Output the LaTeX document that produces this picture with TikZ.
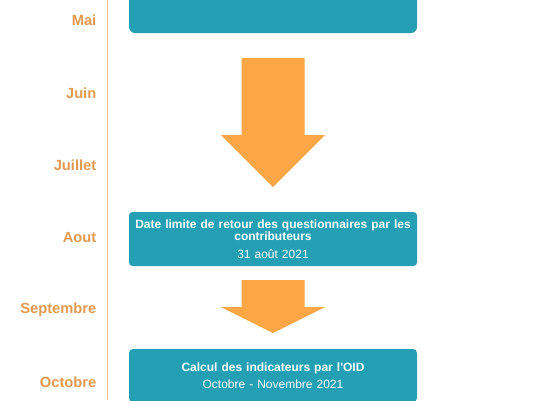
\documentclass[tikz,border=0pt]{standalone}
\usepackage{fontspec}
\setmainfont{Liberation Sans}
\definecolor{teal1}{HTML}{259FB3}
\definecolor{arrowor}{HTML}{FDA645}
\definecolor{monthcol}{HTML}{E39A50}
\definecolor{linecol}{HTML}{F7BF8A}
\tikzset{
  month/.style={anchor=east, text=monthcol, font=\fontsize{14.7}{15}\selectfont\bfseries, inner sep=0pt},
  stagebox/.style={fill=teal1, draw=none, rounded corners=3.5pt, minimum width=288pt, inner sep=0pt, text=white, align=center, text width=284pt, font=\fontsize{12}{12.5}\selectfont},
  blockarrow/.style={fill=arrowor, draw=none}
}
\begin{document}
\begin{tikzpicture}[x=1pt,y=-1pt]
\useasboundingbox (0,0) rectangle (550,400);
\fill[white] (0,0) rectangle (550,400);
\begin{scope}
\clip (0,0) rectangle (550,400);
% timeline
\coordinate (ltop) at (107.5,0);
\coordinate (lbot) at (107.5,400);
\draw[linecol, line width=1.2pt] (ltop) -- (lbot);
% months
\node[month] (mai) at (96.5,20.5) {Mai};
\node[month] (juin) at (96.5,92.9) {Juin};
\node[month] (juil) at (96.5,165.3) {Juillet};
\node[month] (aout) at (96.5,237.7) {Aout};
\node[month] (sept) at (96.5,310.1) {Septembre};
\node[month] (oct) at (96.5,382.5) {Octobre};
% boxes
\node[stagebox, rounded corners=6pt, minimum height=60pt] (b1) at (273,3) {};
\node[stagebox, minimum height=54pt] (b2) at (273,239) {\bfseries Date limite de retour des questionnaires par les\\contributeurs\\[5pt]\mdseries 31 août 2021};
\node[stagebox, rounded corners=4pt, minimum height=53pt] (b3) at (273,375.5) {\bfseries Calcul des indicateurs par l\textquotesingle OID\\[4.2pt]\mdseries Octobre - Novembre 2021};
% block arrows
\fill[blockarrow] (241.5,58) -- (304.5,58) -- (304.5,135) -- (325,135) -- (273,187) -- (221,135) -- (241.5,135) -- cycle;
\fill[blockarrow] (241.5,280) -- (304.5,280) -- (304.5,307) -- (325,307) -- (273,333) -- (221,307) -- (241.5,307) -- cycle;
\end{scope}
\end{tikzpicture}
\end{document}
